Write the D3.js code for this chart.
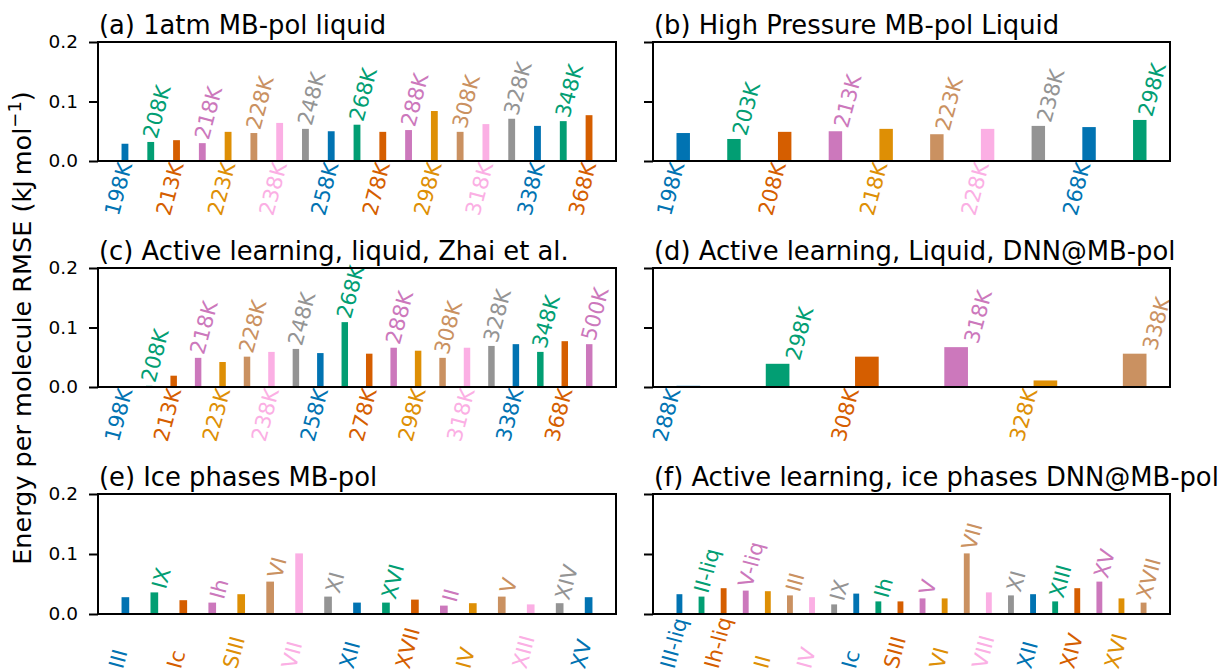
<!DOCTYPE html>
<html>
  <head>
    <meta charset="UTF-8" />
    <script src="https://cdnjs.cloudflare.com/ajax/libs/d3/7.8.5/d3.min.js"></script>
    <style>
      body { margin: 0; background: #fff; }
      text { font-family: "DejaVu Sans", sans-serif; }
    </style>
  </head>
  <body>
    <svg id="chart" width="1219" height="672"></svg>
    <script>
      // seaborn colorblind, in the order the bars cycle through
      let palette = ["#0173b2", "#029e73", "#d55e00", "#cc78bc", "#de8f05", "#ca9161", "#fbafe4", "#949494"];

      let yTicks = [0.0, 0.1, 0.2];

      let titles = [
        "(a) 1atm MB-pol liquid",
        "(b) High Pressure MB-pol Liquid",
        "(c) Active learning, liquid, Zhai et al.",
        "(d) Active learning, Liquid, DNN@MB-pol",
        "(e) Ice phases MB-pol",
        "(f) Active learning, ice phases DNN@MB-pol"
      ];

      let labelsA = ["198K", "208K", "213K", "218K", "223K", "228K", "238K", "248K", "258K", "268K",
        "278K", "288K", "298K", "308K", "318K", "328K", "338K", "348K", "368K"];
      let valuesA = [0.029, 0.032, 0.035, 0.030, 0.049, 0.047, 0.064, 0.054, 0.050, 0.061,
        0.049, 0.052, 0.084, 0.049, 0.062, 0.071, 0.059, 0.067, 0.077];

      let labelsB = ["198K", "203K", "208K", "213K", "218K", "223K", "228K", "238K", "268K", "298K"];
      let valuesB = [0.047, 0.037, 0.049, 0.050, 0.054, 0.045, 0.054, 0.059, 0.057, 0.069];

      let labelsC = ["198K", "208K", "213K", "218K", "223K", "228K", "238K", "248K", "258K", "268K",
        "278K", "288K", "298K", "308K", "318K", "328K", "338K", "348K", "368K", "500K"];
      let valuesC = [0.0, 0.002, 0.019, 0.049, 0.042, 0.051, 0.059, 0.064, 0.057, 0.109,
        0.056, 0.066, 0.061, 0.049, 0.066, 0.069, 0.072, 0.059, 0.077, 0.072];

      let labelsD = ["288K", "298K", "308K", "318K", "328K", "338K"];
      let valuesD = [0.002, 0.039, 0.051, 0.067, 0.011, 0.056];

      let labelsE = ["III", "IX", "Ic", "Ih", "SIII", "VI", "VII", "XI", "XII", "XVI",
        "XVII", "II", "IV", "V", "XIII", "XIV", "XV"];
      let valuesE = [0.028, 0.036, 0.023, 0.019, 0.033, 0.054, 0.101, 0.029, 0.019, 0.019,
        0.024, 0.014, 0.018, 0.029, 0.016, 0.018, 0.028];

      let labelsF = ["III-liq", "II-liq", "Ih-liq", "V-liq", "II", "III", "IV", "IX", "Ic", "Ih",
        "SIII", "V", "VI", "VII", "VIII", "XI", "XII", "XIII", "XIV", "XV", "XVI", "XVII"];
      let valuesF = [0.033, 0.029, 0.043, 0.039, 0.038, 0.031, 0.028, 0.016, 0.034, 0.021,
        0.021, 0.026, 0.026, 0.101, 0.036, 0.031, 0.033, 0.021, 0.043, 0.054, 0.026, 0.019];

      let barWidth = 0.265;
      let cols = [[98, 616], [653, 1170]];
      let rows = [[42, 161], [268, 387], [494, 614]];

      // matplotlib-style 5% margins around the bars
      function autoLim(n) {
        let m = 0.05 * (n - 1 + barWidth);
        return [-barWidth / 2 - m, n - 1 + barWidth / 2 + m];
      }

      let panels = [
        { labels: labelsA, values: valuesA, col: 0, row: 0 },
        { labels: labelsB, values: valuesB, col: 1, row: 0 },
        { labels: labelsC, values: valuesC, col: 0, row: 1 },
        { labels: labelsD, values: valuesD, col: 1, row: 1 },
        { labels: labelsE, values: valuesE, col: 0, row: 2 },
        { labels: labelsF, values: valuesF, col: 1, row: 2 }
      ];

      let svg = d3.select("#chart");

      // rotated label whose bounding box is centred on cx with its bottom on by
      function placeLabel(cx, by, text, color) {
        let g = svg.append("g");
        g.append("text")
          .attr("transform", "rotate(-75)")
          .style("font-size", "21px")
          .style("fill", color)
          .text(text);
        let bb = g.node().getBBox();
        g.attr("transform", `translate(${cx - (bb.x + bb.width / 2)},${by - (bb.y + bb.height)})`);
      }

      panels.forEach((p, k) => {
        let [x0, x1] = cols[p.col];
        let [top, bottom] = rows[p.row];
        let x = d3.scaleLinear().domain(autoLim(p.values.length)).range([x0, x1]);
        let y = d3.scaleLinear().domain([0, 0.2]).range([bottom, top]);
        let unit = x(1) - x(0);

        svg.append("g")
          .selectAll("rect")
          .data(p.values)
          .join("rect")
          .attr("x", (d, i) => x(i - barWidth / 2))
          .attr("width", x(barWidth) - x(0))
          .attr("y", d => y(d))
          .attr("height", d => y(0) - y(d))
          .style("fill", (d, i) => palette[i % palette.length]);

        p.labels.forEach((lab, i) => {
          let c = palette[i % palette.length];
          if (i % 2 === 0) placeLabel(x(i) - 0.24 * unit, y(0) + 57, lab, c);
          else placeLabel(x(i) + 0.25 * unit, y(p.values[i]) - 1, lab, c);
        });

        let yAxis = d3.axisLeft(y).tickValues(yTicks).tickSize(9).tickPadding(11)
          .tickFormat(p.col === 0 ? d3.format(".1f") : "");
        let ga = svg.append("g").attr("transform", `translate(${x0},0)`).call(yAxis);
        ga.select(".domain").remove();
        ga.selectAll("line").style("stroke", "#000").style("stroke-width", 2);
        ga.selectAll("text").style("font-size", "18.5px").style("fill", "#000")
          .style("font-family", "DejaVu Sans");

        svg.append("rect")
          .attr("x", x0).attr("y", top)
          .attr("width", x1 - x0).attr("height", bottom - top)
          .style("fill", "none").style("stroke", "#000").style("stroke-width", 2);

        svg.append("text")
          .attr("x", x0 + 1).attr("y", top - 8)
          .style("font-size", "25.8px")
          .text(titles[k]);
      });

      let ylab = svg.append("text")
        .attr("transform", "translate(31,328) rotate(-90)")
        .attr("text-anchor", "middle")
        .style("font-size", "25.5px");
      ylab.append("tspan").text("Energy per molecule RMSE (kJ\u2009mol");
      ylab.append("tspan").attr("dy", -10).style("font-size", "18px").text("\u22121");
      ylab.append("tspan").attr("dy", 10).text(")");
    </script>
  </body>
</html>
